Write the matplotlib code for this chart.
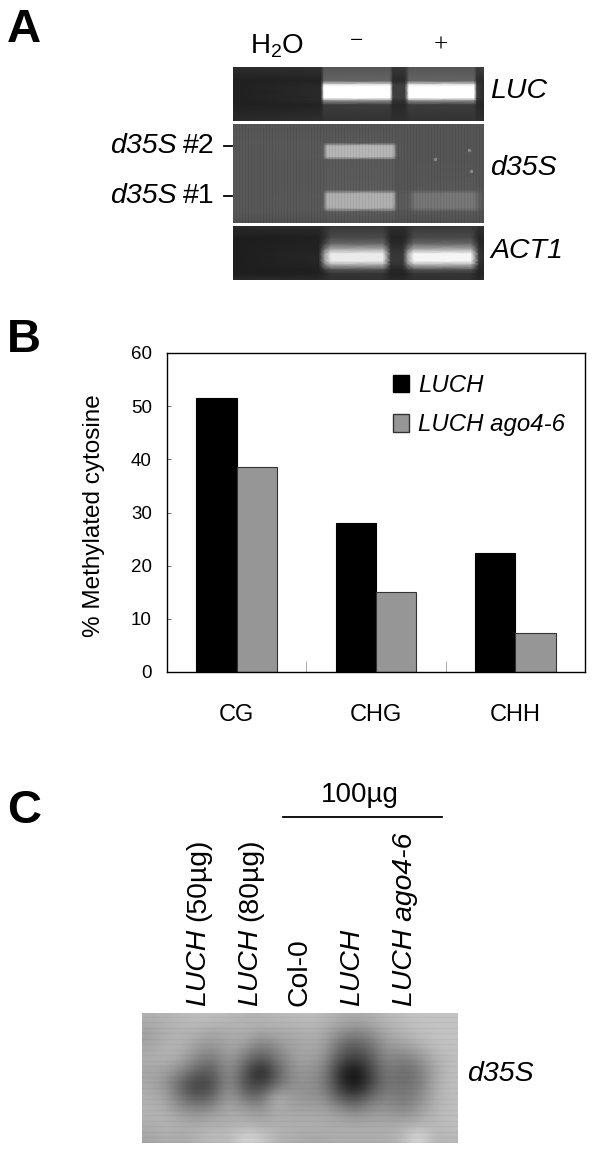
import numpy as np
import matplotlib
matplotlib.use('Agg')
import matplotlib.pyplot as plt
from matplotlib.patches import Patch

plt.rcParams['font.family'] = ['Liberation Sans', 'DejaVu Sans']
plt.rcParams['mathtext.fontset'] = 'custom'
plt.rcParams['mathtext.rm'] = 'Liberation Sans'
plt.rcParams['mathtext.default'] = 'regular'

W, H = 600, 1158

# panel B values
contexts = ['CG', 'CHG', 'CHH']
luch = [51.5, 28.0, 22.4]
luch_ago = [38.5, 15.0, 7.4]
y_ticks = [0, 10, 20, 30, 40, 50, 60]

# gel panels: grey levels (rows x columns)
luc_cols = [0, 88, 91, 157, 160, 172, 176, 241, 244, 251]
luc_rows = [0, 14, 18, 20, 31, 34, 38, 54]
luc_grey = [
    [45, 48, 85, 85, 55, 55, 85, 85, 60, 65],
    [32, 35, 100, 100, 42, 42, 100, 100, 45, 42],
    [32, 40, 235, 235, 60, 60, 235, 235, 55, 42],
    [32, 42, 255, 255, 62, 62, 255, 255, 58, 42],
    [32, 42, 255, 255, 62, 62, 255, 255, 58, 42],
    [32, 40, 135, 135, 50, 50, 135, 135, 48, 40],
    [32, 35, 60, 60, 40, 40, 60, 60, 42, 36],
    [42, 48, 50, 50, 48, 48, 50, 50, 48, 46],
]

d35s_cols = [0, 90, 94, 160, 164, 176, 182, 240, 247, 251]
d35s_rows = [0, 19, 22, 33, 36, 66, 70, 84, 88, 99]
d35s_grey = [
    [85, 85, 85, 85, 85, 85, 85, 85, 85, 85],
    [88, 88, 90, 90, 85, 85, 85, 85, 85, 85],
    [88, 90, 182, 182, 88, 85, 85, 85, 85, 85],
    [88, 90, 182, 182, 88, 85, 85, 85, 85, 85],
    [88, 88, 90, 90, 85, 85, 85, 85, 85, 85],
    [88, 88, 92, 92, 85, 85, 88, 90, 85, 85],
    [88, 90, 176, 176, 90, 92, 118, 120, 95, 88],
    [88, 90, 176, 176, 90, 92, 118, 120, 95, 88],
    [88, 88, 92, 92, 85, 85, 88, 90, 85, 85],
    [80, 80, 82, 82, 80, 80, 80, 80, 80, 80],
]
d35s_spots_x = [202, 236, 238]
d35s_spots_y = [35, 26, 47]

act_cols = [0, 86, 92, 98, 150, 158, 170, 175, 181, 238, 246, 251]
act_rows = [0, 12, 18, 24, 28, 35, 39, 44, 48, 54]
act_grey = [
    [42, 42, 50, 55, 55, 45, 45, 50, 55, 55, 48, 50],
    [30, 32, 50, 75, 75, 36, 36, 50, 75, 75, 38, 38],
    [30, 34, 70, 105, 105, 42, 42, 70, 105, 105, 42, 38],
    [30, 36, 125, 180, 180, 50, 50, 125, 180, 180, 50, 40],
    [30, 38, 165, 235, 235, 55, 55, 170, 245, 245, 55, 40],
    [30, 38, 165, 235, 235, 55, 55, 170, 245, 245, 55, 40],
    [30, 36, 125, 170, 170, 50, 50, 125, 175, 175, 48, 40],
    [30, 32, 60, 80, 80, 38, 38, 60, 80, 80, 38, 38],
    [30, 32, 42, 52, 52, 35, 35, 42, 52, 52, 35, 35],
    [42, 42, 46, 48, 48, 42, 42, 46, 48, 48, 42, 44],
]

# panel C blot, coarse grey levels
blot_grey = [
    [175, 180, 185, 190, 190, 185, 180, 180, 185, 185, 190, 185, 175, 170, 175, 185, 190, 195, 195, 195],
    [160, 175, 180, 175, 165, 170, 175, 165, 170, 170, 175, 170, 145, 130, 145, 170, 180, 190, 195, 195],
    [165, 180, 180, 160, 150, 170, 160, 125, 145, 165, 170, 165, 110, 90, 115, 155, 160, 175, 190, 195],
    [175, 180, 170, 135, 120, 160, 120, 85, 120, 155, 165, 150, 85, 60, 90, 140, 125, 145, 175, 190],
    [165, 160, 135, 95, 90, 150, 90, 25, 90, 145, 150, 135, 45, 10, 70, 125, 105, 120, 165, 190],
    [170, 150, 95, 60, 75, 150, 80, 60, 105, 145, 145, 130, 55, 10, 70, 120, 110, 120, 170, 190],
    [175, 165, 115, 85, 105, 165, 115, 105, 185, 155, 150, 145, 90, 70, 110, 135, 120, 135, 175, 190],
    [180, 175, 150, 140, 150, 170, 165, 150, 170, 165, 165, 165, 150, 130, 150, 150, 135, 155, 180, 190],
    [175, 180, 175, 170, 175, 175, 175, 170, 175, 175, 175, 175, 170, 170, 170, 170, 170, 175, 185, 190],
    [165, 175, 170, 180, 190, 185, 215, 205, 180, 175, 170, 170, 175, 175, 175, 175, 185, 225, 180, 185],
]


def px_axes(fig, x0, y0, x1, y1):
    # axes from pixel box, y counted from the top
    return fig.add_axes([x0 / W, 1 - y1 / H, (x1 - x0) / W, (y1 - y0) / H])


def draw_gel(fig, y0, y1, cols, rows, grey):
    ax = px_axes(fig, 233, y0, 484, y1)
    ax.pcolormesh(cols, rows, np.array(grey), shading='gouraud', cmap='gray', vmin=0, vmax=255)
    ax.set_xlim(0, 251)
    ax.set_ylim(y1 - y0, 0)
    ax.axis('off')
    return ax


fig = plt.figure(figsize=(W / 100, H / 100), dpi=100, facecolor='white')

# overlay for labels, in pixels
ov = fig.add_axes([0, 0, 1, 1], zorder=5)
ov.set_xlim(0, W)
ov.set_ylim(H, 0)
ov.axis('off')

for letter, yc in zip('ABC', [30, 340, 811]):
    ov.text(7, yc, letter, fontsize=34, fontweight='bold', ha='left', va='center')

# panel A
draw_gel(fig, 67, 121, luc_cols, luc_rows, luc_grey)
ax_d = draw_gel(fig, 124, 223, d35s_cols, d35s_rows, d35s_grey)
ax_d.plot(d35s_spots_x, d35s_spots_y, 'o', ms=2.5, color='#8a8a8a', mew=0)
# faint vertical scan lines seen in the d35S gel
ax_d.vlines(range(0, 251, 3), 0, 99, color='black', lw=0.7, alpha=0.06)
draw_gel(fig, 226, 280, act_cols, act_rows, act_grey)

ov.text(250, 46, 'H$_2$O', fontsize=20, ha='left', va='center')
ov.text(357, 42, '\u2212', fontsize=17, family='Liberation Serif', ha='center', va='center')
ov.text(441, 46, '+', fontsize=18, family='Liberation Serif', ha='center', va='center')
for label, yc in zip(['LUC', 'd35S', 'ACT1'], [91, 168, 251]):
    ov.text(490, yc, label, fontsize=20.5, style='italic', ha='left', va='center')
for num, yc in zip(['#2', '#1'], [146, 196]):
    ov.text(177, yc, 'd35S', fontsize=20.5, style='italic', ha='right', va='center')
    ov.text(183, yc, num, fontsize=20.5, ha='left', va='center')
    ov.plot([224, 232], [yc, yc], color='black', lw=1.3)

# panel B
ax = px_axes(fig, 167, 353, 585, 672)
x = np.arange(len(contexts))
bw = 0.29
ax.bar(x - bw / 2, luch, bw, color='black', edgecolor='black', linewidth=0.8, label='LUCH')
ax.bar(x + bw / 2, luch_ago, bw, color='#969696', edgecolor='#333333', linewidth=0.8, label='LUCH ago4-6')
ax.set_xlim(-0.5, 2.5)
ax.set_ylim(0, 60)
ax.set_yticks(y_ticks)
ax.tick_params(axis='y', direction='in', length=3, width=0.6, color='#555555', labelsize=13.5, pad=11)
ax.set_xticks([0.5, 1.5])
ax.set_xticklabels([])
ax.tick_params(axis='x', direction='in', length=8, width=0.5, color='#888888')
for i, name in enumerate(contexts):
    ax.annotate(name, (x[i], 0), xycoords=('data', 'axes fraction'), xytext=(0, -43),
                textcoords='offset pixels', fontsize=17, ha='center', va='center')
ax.set_ylabel('% Methylated cytosine', fontsize=17.5, labelpad=0)
ax.yaxis.set_label_coords((105 - 167) / 418, 0.5 - (516 - 512.5) / 319)
for side in ax.spines.values():
    side.set_linewidth(1.0)
ax.legend(handles=[Patch(facecolor='black', edgecolor='black', label='LUCH'),
                   Patch(facecolor='#969696', edgecolor='#333333', label='LUCH ago4-6')],
          loc='upper left', bbox_to_anchor=((393 - 167) / 418, 1 - (374 - 353) / 319),
          frameon=False, prop={'style': 'italic', 'size': 17.3}, handlelength=0.66, handleheight=0.72,
          handletextpad=0.4, labelspacing=0.68, borderpad=0, borderaxespad=0)

# panel C
ov.text(360, 795, '100\u00b5g', fontsize=20, ha='center', va='center')
ov.plot([283, 442], [817, 817], color='black', lw=1.3)

lane_x = [198, 250, 299, 352, 405]
ital_part = ['LUCH', 'LUCH', '', 'LUCH', 'LUCH ago4-6']
roman_part = ['(50\u00b5g)', '(80\u00b5g)', 'Col-0', '', '']
roman_y = [921, 921, 1006, 0, 0]
for xc, it, ro, ry in zip(lane_x, ital_part, roman_part, roman_y):
    if it:
        ov.text(xc, 1006, it, fontsize=20.4, style='italic', rotation=90, ha='center', va='bottom')
    if ro:
        ov.text(xc, ry, ro, fontsize=20.4, rotation=90, ha='center', va='bottom')

ax_c = px_axes(fig, 142, 1013, 458, 1143)
ax_c.imshow(np.array(blot_grey), cmap='gray', vmin=0, vmax=255, aspect='auto', interpolation='bicubic')
# horizontal banding across the blot
ax_c.hlines(np.arange(-0.2, 9.5, 0.42), -0.5, 19.5, color='black', lw=1.0, alpha=0.03)
ax_c.set_xlim(-0.5, 19.5)
ax_c.set_ylim(9.5, -0.5)
ax_c.axis('off')
ov.text(467, 1074, 'd35S', fontsize=20.5, style='italic', ha='left', va='center')

fig.savefig('out.png', dpi=100)
